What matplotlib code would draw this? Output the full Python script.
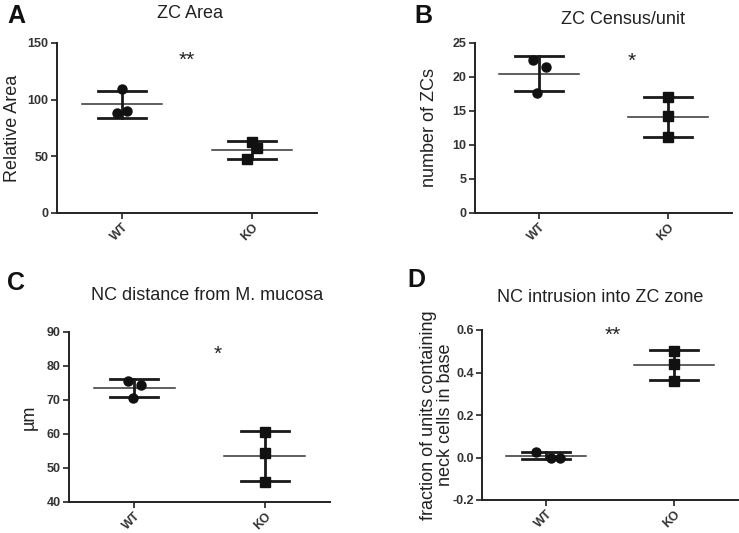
import matplotlib
matplotlib.use("Agg")
import matplotlib.pyplot as plt
import numpy as np

plt.rcParams['font.family'] = ['Liberation Sans', 'DejaVu Sans']

groups = ["WT", "KO"]

# Panel A: ZC Area
a_wt = [109.5, 88.0, 90.0]
a_ko = [62.5, 57.0, 47.5]
# Panel B: ZC Census/unit
b_wt = [22.5, 17.6, 21.4]
b_ko = [17.0, 14.2, 11.2]
# Panel C: NC distance from M. mucosa
c_wt = [75.5, 70.5, 74.3]
c_ko = [60.5, 54.5, 45.8]
# Panel D: NC intrusion into ZC zone
d_wt = [0.026, 0.0, 0.0]
d_ko = [0.50, 0.44, 0.36]

titles = ["ZC Area", "ZC Census/unit", "NC distance from M. mucosa", "NC intrusion into ZC zone"]
ylabels = ["Relative Area", "number of ZCs", "µm", "fraction of units containing\nneck cells in base"]
letters = ["A", "B", "C", "D"]
stars = ["**", "*", "*", "**"]
star_y = [135, 22.3, 83.5, 0.575]
star_x = [0.5, 0.72, 0.64, 0.52]
ylims = [(0, 150), (0, 25), (40, 90), (-0.2, 0.6)]
yticks = [np.arange(0, 151, 50), np.arange(0, 26, 5), np.arange(40, 91, 10), np.arange(-0.2, 0.61, 0.2)]
yfmt = ["{:.0f}", "{:.0f}", "{:.0f}", "{:.1f}"]

# jitter offsets (layout only)
jit_wt = [[0.0, -0.04, 0.04], [-0.05, -0.02, 0.05], [-0.05, -0.01, 0.05], [-0.08, 0.04, 0.11]]
jit_ko = [[0.0, 0.04, -0.04], [0.0, 0.0, 0.0], [0.0, 0.0, 0.0], [0.0, 0.0, 0.0]]

W, H = 739, 533
fig = plt.figure(figsize=(W / 100, H / 100), dpi=100)

def px_axes(l, r, t, b):
    return [l / W, 1 - b / H, (r - l) / W, (b - t) / H]

rects = [px_axes(57, 317, 43, 213), px_axes(475, 732, 43, 213),
         px_axes(69, 330, 332, 502), px_axes(482, 738, 330, 500)]
label_x = [-0.14, -0.145, -0.12, -0.11]
title_pos = [(190, 13), (623, 20), (207, 296), (600, 297)]
letter_pos = [(16, 16), (423, 16), (16, 283), (416, 280)]

data = [(a_wt, a_ko), (b_wt, b_ko), (c_wt, c_ko), (d_wt, d_ko)]

for i in range(4):
    ax = fig.add_axes(rects[i])
    wt, ko = data[i]
    for g, (vals, mk, jit) in enumerate([(wt, 'o', jit_wt[i]), (ko, 's', jit_ko[i])]):
        v = np.array(vals)
        m = v.mean()
        sd = v.std(ddof=1)
        ax.plot([g - 0.31, g + 0.31], [m, m], color='#333333', lw=1.1, zorder=2)
        ax.plot([g - 0.185, g + 0.185], [m + sd, m + sd], color='#1a1a1a', lw=2.0, zorder=2)
        ax.plot([g - 0.185, g + 0.185], [m - sd, m - sd], color='#1a1a1a', lw=2.0, zorder=2)
        ax.plot([g, g], [m - sd, m + sd], color='#1a1a1a', lw=2.0, zorder=2)
        ax.plot(g + np.array(jit), v, linestyle='none', marker=mk, ms=6.5,
                color='#111111', zorder=3)
    ax.set_xlim(-0.5, 1.5)
    ax.set_ylim(*ylims[i])
    ax.set_yticks(yticks[i])
    ax.set_yticklabels([yfmt[i].format(t if abs(t) > 1e-9 else 0.0) for t in yticks[i]])
    ax.set_xticks([0, 1])
    ax.set_xticklabels(groups, rotation=45, ha='right', rotation_mode='anchor')
    for s in ['top', 'right']:
        ax.spines[s].set_visible(False)
    for s in ['left', 'bottom']:
        ax.spines[s].set_linewidth(1.4)
        ax.spines[s].set_color('#222222')
    ax.tick_params(axis='both', length=4, width=1.2, color='#222222',
                   labelsize=9, labelcolor='#333333', pad=2)
    for lab in ax.get_xticklabels() + ax.get_yticklabels():
        lab.set_fontweight('bold')
    ax.set_ylabel(ylabels[i], fontsize=13, color='#222222', linespacing=1.0)
    ax.yaxis.set_label_coords(label_x[i], 0.5)
    ax.text(star_x[i], star_y[i], stars[i], fontsize=15, ha='center', va='center',
            transform=ax.transData, color='#222222')
    tx, ty = title_pos[i]
    fig.text(tx / W, 1 - ty / H, titles[i], fontsize=13, ha='center', va='center', color='#222222')
    lx, ly = letter_pos[i]
    fig.text(lx / W, 1 - ly / H, letters[i], fontsize=18, fontweight='bold', ha='center',
             va='center', color='#111111')

fig.savefig("out.png", dpi=100)
